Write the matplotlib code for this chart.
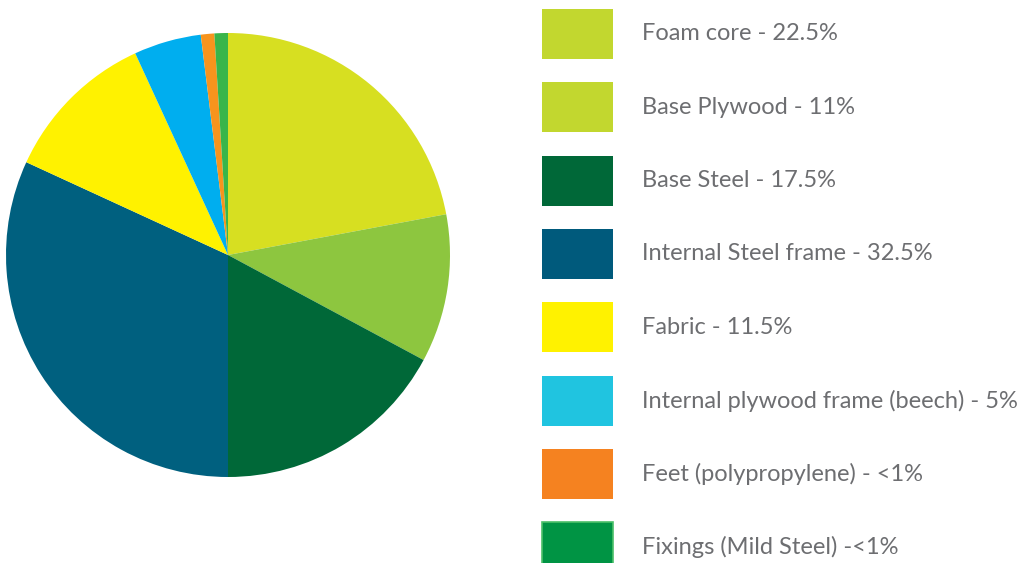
import matplotlib.pyplot as plt
from matplotlib.patches import Rectangle

# ------------------------------
# data
# ------------------------------
labels = ["Foam core", "Base Plywood", "Base Steel", "Internal Steel frame",
          "Fabric", "Internal plywood frame (beech)", "Feet (polypropylene)",
          "Fixings (Mild Steel)"]
shares = [22.5, 11, 17.5, 32.5, 11.5, 5, 1, 1]
legend_text = ["Foam core - 22.5%", "Base Plywood - 11%", "Base Steel - 17.5%",
               "Internal Steel frame - 32.5%", "Fabric - 11.5%",
               "Internal plywood frame (beech) - 5%", "Feet (polypropylene) - <1%",
               "Fixings (Mild Steel) -<1%"]

pie_colors = ["#d7df21", "#8dc63f", "#006838", "#00607f",
              "#fff200", "#00aeef", "#f7941d", "#39b54a"]
legend_colors = ["#c2d72f", "#c2d72f", "#006838", "#005a7c",
                 "#fff200", "#20c4e0", "#f58220", "#009444"]

W, H = 1026, 563
fig = plt.figure(figsize=(W / 100, H / 100), dpi=100)

# ---- pie ----
cx, cy, r = 228, 255, 222
ax = fig.add_axes([(cx - r) / W, (H - cy - r) / H, 2 * r / W, 2 * r / H])
ax.pie(shares, colors=pie_colors, startangle=90, counterclock=False,
       radius=1, wedgeprops=dict(linewidth=0))
ax.set_xlim(-1, 1)
ax.set_ylim(-1, 1)
ax.set_aspect("equal")
ax.axis("off")

# ---- legend (pixel-space axes) ----
lg = fig.add_axes([0, 0, 1, 1])
lg.set_xlim(0, W)
lg.set_ylim(H, 0)
lg.axis("off")

box_x, box_w, box_h = 542, 71, 50
top0, step = 9, 73.3
for i, (txt, col) in enumerate(zip(legend_text, legend_colors)):
    y0 = top0 + i * step
    ec = "#4cc06a" if i == len(legend_text) - 1 else "none"
    lg.add_patch(Rectangle((box_x, y0), box_w, box_h, facecolor=col,
                           edgecolor=ec, linewidth=1.2))
    lg.text(642, y0 + box_h / 2, txt, fontsize=17, family="Lato",
            color="#6d6e71", va="center", ha="left")

fig.savefig("out.png", dpi=100)
